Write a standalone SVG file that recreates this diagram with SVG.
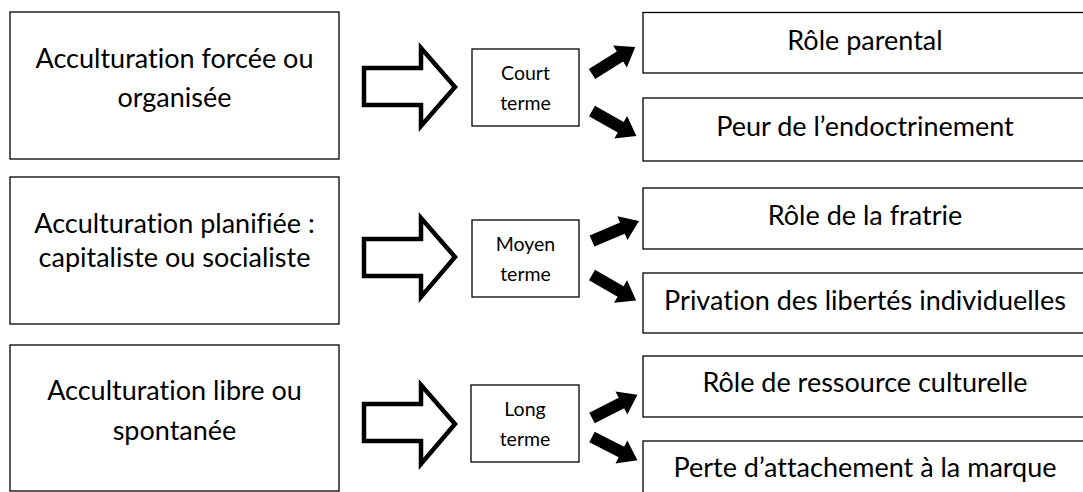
<svg xmlns="http://www.w3.org/2000/svg" xmlns:xlink="http://www.w3.org/1999/xlink" width="1083" height="492" viewBox="0 0 1083 492">
<style>
.box{fill:#fff;stroke:#000;stroke-width:1.3}
.t{font-family:Lato,"Open Sans","Liberation Sans",sans-serif;font-size:27px;fill:#000;text-anchor:middle;font-variant-ligatures:none;font-feature-settings:"liga" 0,"clig" 0,"dlig" 0}
.s{font-family:Lato,"Open Sans","Liberation Sans",sans-serif;font-size:19.5px;fill:#000;text-anchor:middle;font-variant-ligatures:none;font-feature-settings:"liga" 0,"clig" 0}
.big{fill:#fff;stroke:#000;stroke-width:4.5;stroke-linejoin:miter}
.sa{fill:#000}
</style>
<defs>
<polygon id="sa" points="0,-6 33,-6 33,-13 51,0 33,13 33,6 0,6"/>
</defs>
<rect width="1083" height="492" fill="#fff"/>
<g id="left1"><rect class="box" x="10" y="12" width="329" height="147"/><text class="t" x="174.5" y="68">Acculturation forcée ou</text><text class="t" x="174.5" y="107">organisée</text></g>
<g id="left2"><rect class="box" x="10" y="177" width="329" height="147"/><text class="t" x="174.5" y="233">Acculturation planifiée :</text><text class="t" x="174.5" y="267">capitaliste ou socialiste</text></g>
<g id="left3"><rect class="box" x="10" y="345" width="329" height="146"/><text class="t" x="174.5" y="400">Acculturation libre ou</text><text class="t" x="174.5" y="440">spontanée</text></g>
<g id="mid1"><rect class="box" x="472" y="49" width="107" height="77"/><text class="s" x="525.5" y="80">Court</text><text class="s" x="525.5" y="110">terme</text></g>
<g id="mid2"><rect class="box" x="472" y="220" width="107" height="77"/><text class="s" x="525.5" y="251">Moyen</text><text class="s" x="525.5" y="281">terme</text></g>
<g id="mid3"><rect class="box" x="471" y="385" width="108" height="77"/><text class="s" x="525" y="416">Long</text><text class="s" x="525" y="446">terme</text></g>
<g id="r1"><rect class="box" x="643" y="12.5" width="447" height="60.5"/><text class="t" x="865" y="50">Rôle parental</text></g>
<g id="r2"><rect class="box" x="643" y="98" width="447" height="63"/><text class="t" x="865" y="136">Peur de l’endoctrinement</text></g>
<g id="r3"><rect class="box" x="643" y="188" width="447" height="61"/><text class="t" x="865" y="225">Rôle de la fratrie</text></g>
<g id="r4"><rect class="box" x="643" y="273" width="447" height="60"/><text class="t" x="865" y="310">Privation des libertés individuelles</text></g>
<g id="r5"><rect class="box" x="643" y="356" width="447" height="61"/><text class="t" x="865" y="392">Rôle de ressource culturelle</text></g>
<g id="r6"><rect class="box" x="643" y="441" width="447" height="60"/><text class="t" x="865" y="477">Perte d’attachement à la marque</text></g>
<g id="connectors">
<polygon class="big" points="364,68 421,68 421,48 455,87 421,126 421,105 364,105"/>
<polygon class="big" points="364,239 421,239 421,218 455,257 421,297 421,276 364,276"/>
<polygon class="big" points="364,404 421,404 421,385 455,424 421,464 421,441 364,441"/>
<use xlink:href="#sa" class="sa" transform="translate(592,74) rotate(-32)"/>
<use xlink:href="#sa" class="sa" transform="translate(592,111) rotate(29.5)"/>
<use xlink:href="#sa" class="sa" transform="translate(592,241) rotate(-23)"/>
<use xlink:href="#sa" class="sa" transform="translate(592,275) rotate(30)"/>
<use xlink:href="#sa" class="sa" transform="translate(592,418) rotate(-27)"/>
<use xlink:href="#sa" class="sa" transform="translate(592,437) rotate(27)"/>
</g>
</svg>
